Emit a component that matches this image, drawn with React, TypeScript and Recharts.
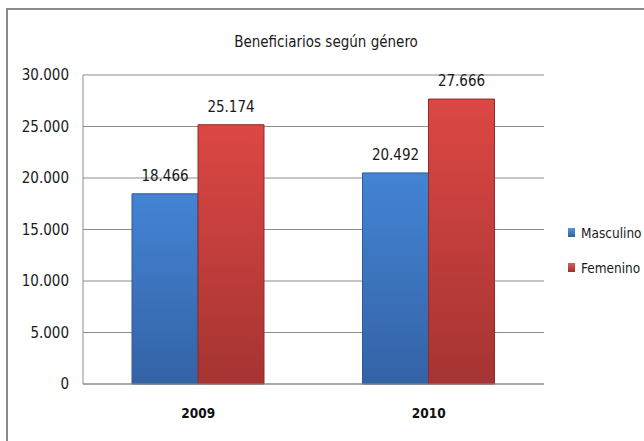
import { BarChart, Bar, XAxis, YAxis, CartesianGrid, Legend, LabelList } from 'recharts';

const years = ['2009', '2010'];
const masculino = [18466, 20492];
const femenino = [25174, 27666];
const yTicks = [0, 5000, 10000, 15000, 20000, 25000, 30000];

const data = years.map((year, i) => ({
  year,
  Masculino: masculino[i],
  Femenino: femenino[i],
}));

const FONT = '"Liberation Sans Narrow", "DejaVu Sans Condensed", sans-serif';

// 25174 -> "25.174"
const fmt = (v: number) => String(v).replace(/\B(?=(\d{3})+(?!\d))/g, '.');

const legendItems = [
  { name: 'Masculino', bg: 'linear-gradient(#5b95dc, #2f5f9f)' },
  { name: 'Femenino', bg: 'linear-gradient(#e05a56, #9b2f2d)' },
];

function LegendBox() {
  return (
    <div style={{ fontFamily: FONT, fontStretch: 'condensed', fontSize: 13.5, color: '#1a1a1a' }}>
      {legendItems.map((it) => (
        <div key={it.name} style={{ display: 'flex', alignItems: 'center', height: 35, whiteSpace: 'nowrap' }}>
          <span style={{ width: 7, height: 9, flexShrink: 0, background: it.bg, marginRight: 6 }} />
          <span>{it.name}</span>
        </div>
      ))}
    </div>
  );
}

const txt = { fontFamily: FONT, fontStretch: 'condensed' as const };

export default function App() {
  return (
    <div style={{ position: 'absolute', left: 0, top: 0, width: 644, height: 441, overflow: 'hidden', background: '#fff' }}>
      <div
        style={{
          position: 'absolute',
          left: 6,
          top: 8,
          width: 700,
          height: 500,
          border: '2px solid #8a8a8a',
        }}
      />
      <div
        style={{
          position: 'absolute',
          left: 0,
          width: 652,
          top: 33,
          textAlign: 'center',
          ...txt,
          fontSize: 15,
          color: '#1a1a1a',
        }}
      >
        Beneficiarios según género
      </div>
      <BarChart
        width={644}
        height={441}
        data={data}
        margin={{ top: 75, right: 100, left: 0, bottom: 0 }}
        barGap={0}
        barSize={66}
        style={{ position: 'absolute', left: 0, top: 0 }}
      >
        <defs>
          <linearGradient id="gBlue" x1="0" y1="0" x2="0" y2="1">
            <stop offset="0%" stopColor="#4384d4" />
            <stop offset="100%" stopColor="#3462a6" />
          </linearGradient>
          <linearGradient id="gRed" x1="0" y1="0" x2="0" y2="1">
            <stop offset="0%" stopColor="#dc4744" />
            <stop offset="100%" stopColor="#a53432" />
          </linearGradient>
        </defs>
        <CartesianGrid vertical={false} stroke="#8c8c8c" />
        <XAxis
          dataKey="year"
          height={57}
          axisLine={{ stroke: '#8c8c8c' }}
          tickLine={false}
          tickMargin={18}
          tick={{ fill: '#111', fontSize: 13.5, fontWeight: 'bold', ...txt }}
        />
        <YAxis
          width={83}
          domain={[0, 30000]}
          ticks={yTicks}
          tickFormatter={fmt}
          axisLine={{ stroke: '#8c8c8c' }}
          tickLine={false}
          tickMargin={8}
          tick={{ fill: '#1a1a1a', fontSize: 15, ...txt }}
        />
        <Legend
          layout="vertical"
          align="center"
          verticalAlign="middle"
          content={() => <LegendBox />}
          wrapperStyle={{ left: 568, top: 215, width: 76 }}
        />
        <Bar dataKey="Masculino" fill="url(#gBlue)" stroke="#2f5a96" strokeWidth={1} isAnimationActive={false}>
          <LabelList dataKey="Masculino" position="top" offset={13} formatter={(v: any) => fmt(Number(v))} style={{ fill: '#1a1a1a', fontSize: 15, ...txt }} />
        </Bar>
        <Bar dataKey="Femenino" fill="url(#gRed)" stroke="#8f2c2a" strokeWidth={1} isAnimationActive={false}>
          <LabelList dataKey="Femenino" position="top" offset={13} formatter={(v: any) => fmt(Number(v))} style={{ fill: '#1a1a1a', fontSize: 15, ...txt }} />
        </Bar>
      </BarChart>
    </div>
  );
}
